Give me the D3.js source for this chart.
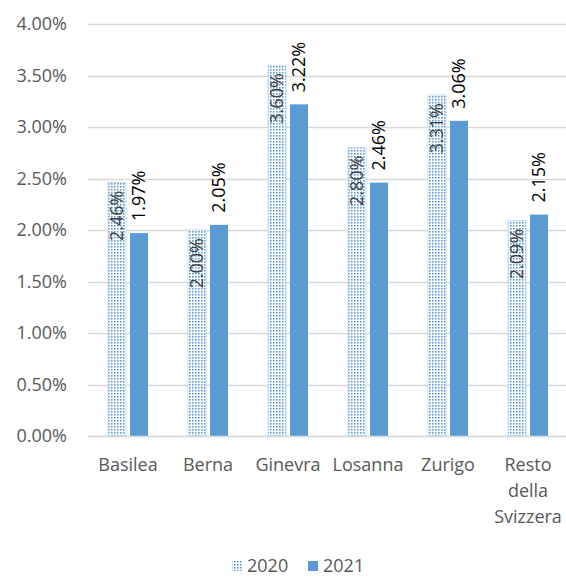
<!DOCTYPE html>
<html>
<head>
<meta charset="utf-8">
<script src="https://cdn.jsdelivr.net/npm/d3@7"></script>
<style>
    body { margin: 0; background: #fff; }
    text { font-family: "Open Sans", sans-serif; }
</style>
</head>
<body>
<div id="chart"></div>
<script>
const categories = ["Basilea", "Berna", "Ginevra", "Losanna", "Zurigo", "Resto della Svizzera"];
const series = ["2020", "2021"];
const values2020 = [2.46, 2.00, 3.60, 2.80, 3.31, 2.09];
const values2021 = [1.97, 2.05, 3.22, 2.46, 3.06, 2.15];
const yTicks = [0, 0.5, 1, 1.5, 2, 2.5, 3, 3.5, 4];

const width = 566, height = 579;
const margin = {top: 24, right: -2, bottom: 143, left: 88};
const fs = 18;

const svg = d3.select("#chart").append("svg")
    .attr("width", width)
    .attr("height", height);

const defs = svg.append("defs");
const pat = defs.append("pattern")
    .attr("id", "dots")
    .attr("patternUnits", "userSpaceOnUse")
    .attr("width", 3)
    .attr("height", 3);
pat.append("rect").attr("width", 3).attr("height", 3).attr("fill", "#fff");
pat.append("rect").attr("width", 1.6).attr("height", 1.6).attr("fill", "#5b9bd5");

const x = d3.scaleBand()
    .domain(categories)
    .range([margin.left, width - margin.right]);

const y = d3.scaleLinear()
    .domain([0, 4])
    .range([height - margin.bottom, margin.top]);

// gridlines
svg.append("g")
    .selectAll("line")
    .data(yTicks)
    .join("line")
    .attr("x1", margin.left)
    .attr("x2", width)
    .attr("y1", d => Math.round(y(d)) + 0.5)
    .attr("y2", d => Math.round(y(d)) + 0.5)
    .attr("stroke", "#d9d9d9")
    .attr("stroke-width", 1.5);

// y tick labels
svg.append("g")
    .selectAll("text")
    .data(yTicks)
    .join("text")
    .attr("x", 67)
    .attr("y", d => y(d))
    .attr("dy", "0.35em")
    .attr("text-anchor", "end")
    .attr("font-size", fs)
    .attr("fill", "#595959")
    .text(d => d.toFixed(2) + "%");

const barW = 18, gap = 5;
const rows = categories.map((c, i) => ({cat: c, v0: values2020[i], v1: values2021[i]}));

const g = svg.append("g");

// 2020 bars
g.selectAll(".b2020")
    .data(rows)
    .join("rect")
    .attr("class", "b2020")
    .attr("x", d => x(d.cat) + x.bandwidth() / 2 - barW - gap / 2 + 0.5)
    .attr("y", d => y(d.v0))
    .attr("width", barW)
    .attr("height", d => y(0) - y(d.v0))
    .attr("fill", "url(#dots)")
    .attr("stroke", "#bdd7ee")
    .attr("stroke-width", 0.8);

// 2021 bars
g.selectAll(".b2021")
    .data(rows)
    .join("rect")
    .attr("class", "b2021")
    .attr("x", d => x(d.cat) + x.bandwidth() / 2 + gap / 2 - 0.5)
    .attr("y", d => y(d.v1))
    .attr("width", barW)
    .attr("height", d => y(0) - y(d.v1))
    .attr("fill", "#5b9bd5");

// labels 2020 (inside end)
g.selectAll(".l2020")
    .data(rows)
    .join("text")
    .attr("class", "l2020")
    .attr("transform", d => {
        const cx = x(d.cat) + x.bandwidth() / 2 - barW / 2 - gap / 2 + 0.5;
        return `translate(${cx},${y(d.v0) + 8}) rotate(-90)`;
    })
    .attr("dy", "0.35em")
    .attr("text-anchor", "end")
    .attr("font-size", fs)
    .attr("fill", "#404040")
    .text(d => d.v0.toFixed(2) + "%");

// labels 2021 (outside end)
g.selectAll(".l2021")
    .data(rows)
    .join("text")
    .attr("class", "l2021")
    .attr("transform", d => {
        const cx = x(d.cat) + x.bandwidth() / 2 + barW / 2 + gap / 2 - 0.5;
        return `translate(${cx},${y(d.v1) - 12}) rotate(-90)`;
    })
    .attr("dy", "0.35em")
    .attr("text-anchor", "start")
    .attr("font-size", fs)
    .attr("fill", "#000")
    .text(d => d.v1.toFixed(2) + "%");

// baseline
svg.append("line")
    .attr("x1", margin.left)
    .attr("x2", width)
    .attr("y1", Math.round(y(0)) + 0.5)
    .attr("y2", Math.round(y(0)) + 0.5)
    .attr("stroke", "#d9d9d9")
    .attr("stroke-width", 1.5);

// category labels
const catLines = {"Resto della Svizzera": ["Resto", "della", "Svizzera"]};
const cl = svg.append("g")
    .selectAll("text")
    .data(categories)
    .join("text")
    .attr("text-anchor", "middle")
    .attr("font-size", fs)
    .attr("fill", "#595959");
cl.each(function(d) {
    const lines = catLines[d] || [d];
    const t = d3.select(this);
    lines.forEach((ln, i) => {
        t.append("tspan")
            .attr("x", x(d) + x.bandwidth() / 2)
            .attr("y", 465 + i * 26)
            .attr("dy", "0.35em")
            .text(ln);
    });
});

// legend
const legend = svg.append("g");
const legX = [232, 308];
series.forEach((s, i) => {
    legend.append("rect")
        .attr("x", legX[i])
        .attr("y", 561)
        .attr("width", 10)
        .attr("height", 10)
        .attr("fill", i === 0 ? "url(#dots)" : "#5b9bd5");
    legend.append("text")
        .attr("x", legX[i] + 15)
        .attr("y", 566)
        .attr("dy", "0.35em")
        .attr("font-size", fs)
        .attr("fill", "#595959")
        .text(s);
});
</script>
</body>
</html>
